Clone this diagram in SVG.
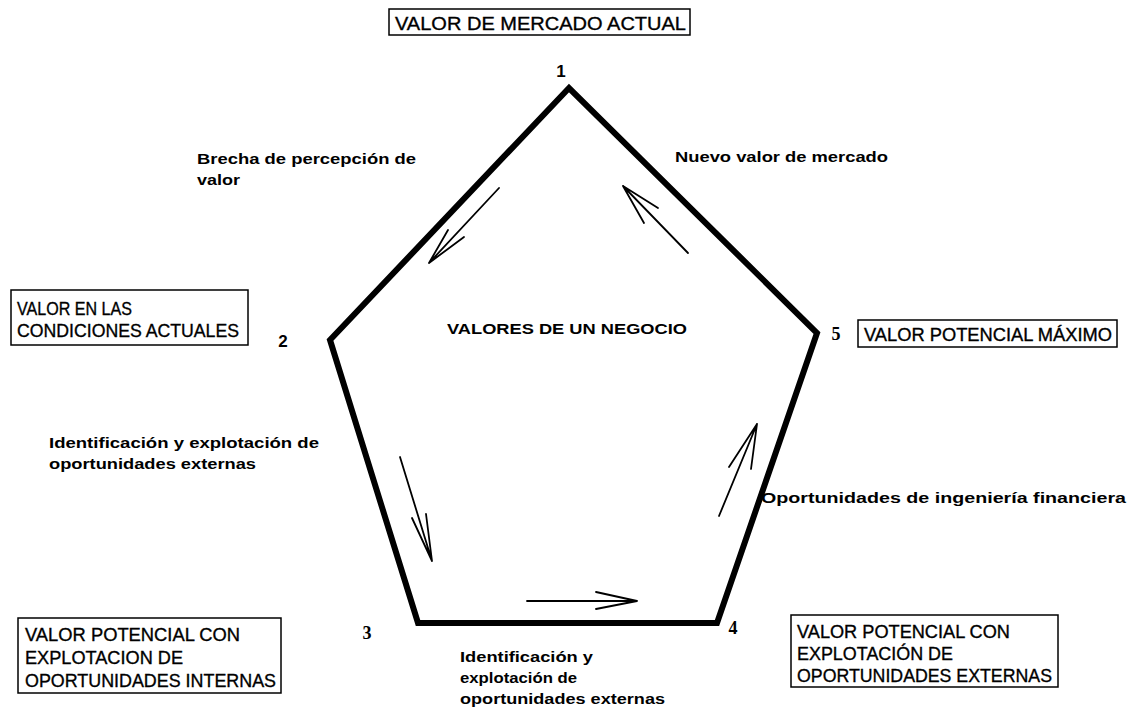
<svg xmlns="http://www.w3.org/2000/svg" width="1128" height="709" viewBox="0 0 1128 709">
<style>
.bg{fill:#fff}
.box{fill:#fff;stroke:#000;stroke-width:1.5}
.bt{font-family:"Liberation Sans",Arial,sans-serif;font-size:19px;fill:#000;stroke:#000;stroke-width:0.35}
.lbl{font-family:"Liberation Sans",Arial,sans-serif;font-size:15px;font-weight:bold;fill:#000}
.num{font-family:"Liberation Sans",Arial,sans-serif;font-size:17px;font-weight:bold;fill:#000}
.nums{font-family:"Liberation Serif","Times New Roman",serif;font-size:18px;font-weight:bold;fill:#000}
.pent{fill:none;stroke:#000;stroke-width:6;stroke-linejoin:miter}
.arr{fill:none;stroke:#000;stroke-width:1.8;stroke-linecap:round}
</style>
<rect class="bg" x="0" y="0" width="1128" height="709"/>

<g id="pentagon">
<polygon class="pent" points="569,88 330,340 418,623 717,623 817,333"/>
</g>

<g id="connectors">
<path class="arr" d="M499,188 L429,263 M429,263 L448,230 M429,263 L464,237"/>
<path class="arr" d="M400,457 L432,561 M432,561 L412,518 M432,561 L426,514"/>
<path class="arr" d="M527,601 L637,601 M637,601 L596,592 M637,601 L596,609"/>
<path class="arr" d="M719,516 L757,424 M757,424 L729,467 M757,424 L751,469"/>
<path class="arr" d="M688,253 L623,186 M623,186 L658,208 M623,186 L644,223"/>
</g>

<g id="node1">
<rect class="box" x="389" y="9" width="301" height="26"/>
<text class="bt" x="395" y="30" font-size="20.5" textLength="291" lengthAdjust="spacingAndGlyphs">VALOR DE MERCADO ACTUAL</text>
<text class="num" x="561" y="77" text-anchor="middle">1</text>
</g>

<g id="node2">
<rect class="box" x="11" y="290" width="237" height="55"/>
<text class="bt" x="17" y="315" textLength="115" lengthAdjust="spacingAndGlyphs">VALOR EN LAS</text>
<text class="bt" x="17" y="337" textLength="222" lengthAdjust="spacingAndGlyphs">CONDICIONES ACTUALES</text>
<text class="num" x="283" y="347" text-anchor="middle">2</text>
</g>

<g id="node3">
<rect class="box" x="18" y="618" width="263" height="75"/>
<text class="bt" x="25" y="641" textLength="215" lengthAdjust="spacingAndGlyphs">VALOR POTENCIAL CON</text>
<text class="bt" x="25" y="664" textLength="158" lengthAdjust="spacingAndGlyphs">EXPLOTACION DE</text>
<text class="bt" x="25" y="687" textLength="251" lengthAdjust="spacingAndGlyphs">OPORTUNIDADES INTERNAS</text>
<text class="nums" x="367" y="639" text-anchor="middle">3</text>
</g>

<g id="node4">
<rect class="box" x="791" y="615" width="267" height="72"/>
<text class="bt" x="797" y="638" textLength="213" lengthAdjust="spacingAndGlyphs">VALOR POTENCIAL CON</text>
<text class="bt" x="797" y="660" textLength="156" lengthAdjust="spacingAndGlyphs">EXPLOTACIÓN DE</text>
<text class="bt" x="797" y="682" textLength="255" lengthAdjust="spacingAndGlyphs">OPORTUNIDADES EXTERNAS</text>
<text class="nums" x="733" y="634" text-anchor="middle">4</text>
</g>

<g id="node5">
<rect class="box" x="858" y="320" width="259" height="27"/>
<text class="bt" x="864" y="341" textLength="248" lengthAdjust="spacingAndGlyphs">VALOR POTENCIAL MÁXIMO</text>
<text class="nums" x="836" y="340" text-anchor="middle">5</text>
</g>

<g id="center">
<text class="lbl" x="447" y="334" font-size="17" textLength="240" lengthAdjust="spacingAndGlyphs">VALORES DE UN NEGOCIO</text>
</g>

<g id="labels">
<text class="lbl" x="197" y="164" textLength="219" lengthAdjust="spacingAndGlyphs">Brecha de percepción de</text>
<text class="lbl" x="197" y="185" textLength="43" lengthAdjust="spacingAndGlyphs">valor</text>
<text class="lbl" x="675" y="162" textLength="213" lengthAdjust="spacingAndGlyphs">Nuevo valor de mercado</text>
<text class="lbl" x="49" y="448" textLength="270" lengthAdjust="spacingAndGlyphs">Identificación y explotación de</text>
<text class="lbl" x="49" y="469" textLength="207" lengthAdjust="spacingAndGlyphs">oportunidades externas</text>
<text class="lbl" x="761" y="503" textLength="365" lengthAdjust="spacingAndGlyphs">Oportunidades de ingeniería financiera</text>
<text class="lbl" x="460" y="662" textLength="133" lengthAdjust="spacingAndGlyphs">Identificación y</text>
<text class="lbl" x="460" y="683" textLength="117" lengthAdjust="spacingAndGlyphs">explotación de</text>
<text class="lbl" x="460" y="704" textLength="205" lengthAdjust="spacingAndGlyphs">oportunidades externas</text>
</g>
</svg>
